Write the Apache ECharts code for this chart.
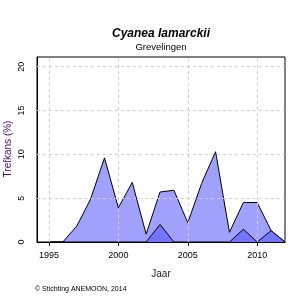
<!DOCTYPE html>
<html>
<head>
<meta charset="utf-8">
<script src="https://cdn.jsdelivr.net/npm/echarts@6/dist/echarts.min.js"></script>
<style>
  html, body { margin: 0; padding: 0; background: #fff; }
  #chart { width: 300px; height: 300px; }
</style>
</head>
<body>
<div id="chart"></div>
<script>
var years = [1995, 1996, 1997, 1998, 1999, 2000, 2001, 2002, 2003, 2004, 2005, 2006, 2007, 2008, 2009, 2010, 2011, 2012];
var totaal = [0, 0, 1.8, 4.9, 9.6, 3.9, 6.8, 0.9, 5.7, 5.9, 2.2, 6.7, 10.3, 1.1, 4.5, 4.5, 1.3, 0];
var deel = [0, 0, 0, 0, 0, 0, 0, 0, 2.0, 0, 0, 0, 0, 0, 1.45, 0, 1.3, 0];
var xTicks = [1995, 2000, 2005, 2010];
var yTicks = [0, 5, 10, 15, 20];

function pairs(vals) {
    return years.map(function (y, i) { return [y, vals[i]]; });
}

var font = 'Liberation Sans, Arial, sans-serif';

// grid lines as markLines so they sit on the custom tick values
var gridLines = xTicks.map(function (v) { return { xAxis: v }; })
    .concat(yTicks.slice(1).map(function (v) { return { yAxis: v }; }));

var option = {
    animation: false,
    grid: {
        left: 37, right: 15, top: 57, bottom: 58,
        outerBoundsMode: 'none',
        containLabel: false,
        show: true, borderColor: '#000', borderWidth: 1, backgroundColor: 'transparent'
    },
    xAxis: {
        type: 'value',
        min: 1994.14,
        max: 2012,
        name: 'Jaar',
        nameLocation: 'middle',
        nameGap: 27,
        nameTextStyle: { fontFamily: font, fontSize: 10, color: '#222' },
        axisLine: { show: true, lineStyle: { color: '#000' } },
        axisTick: { show: true, length: 4, customValues: xTicks, lineStyle: { color: '#000' } },
        axisLabel: {
            customValues: xTicks, fontFamily: font, fontSize: 9, color: '#000', margin: 9,
            formatter: function (v) { return String(v); }
        },
        splitLine: { show: false }
    },
    yAxis: {
        type: 'value',
        min: 0,
        max: 21.1,
        axisLine: { show: true, lineStyle: { color: '#000' } },
        axisTick: { show: false, customValues: yTicks },
        axisLabel: {
            customValues: yTicks, rotate: 90, fontFamily: font, fontSize: 9, color: '#000', margin: 11,
            align: 'center', verticalAlign: 'bottom',
            formatter: function (v) { return String(v); }
        },
        splitLine: { show: false }
    },
    series: [
        {
            type: 'line',
            data: [],
            silent: true,
            z: 1,
            markLine: {
                silent: true,
                symbol: 'none',
                label: { show: false },
                lineStyle: { color: '#d0d0d0', type: [3, 3], width: 1 },
                data: gridLines
            }
        },
        {
            type: 'line',
            data: pairs(totaal),
            symbol: 'none',
            lineStyle: { color: '#000', width: 1 },
            areaStyle: { color: '#a0a0ff', opacity: 1 },
            z: 2
        },
        {
            type: 'line',
            data: pairs(deel),
            symbol: 'none',
            lineStyle: { color: '#000', width: 1 },
            areaStyle: { color: '#7474ff', opacity: 1 },
            z: 3
        }
    ],
    graphic: [
        {
            type: 'text', z: 10,
            style: { text: 'Cyanea lamarckii', x: 161, y: 34, textAlign: 'center', textVerticalAlign: 'middle',
                font: 'italic bold 12px ' + font, fill: '#000' }
        },
        {
            type: 'text', z: 10,
            style: { text: 'Grevelingen', x: 161, y: 47, textAlign: 'center', textVerticalAlign: 'middle',
                font: '9.5px ' + font, fill: '#000' }
        },
        {
            // y axis title, placed by hand so it is not clipped
            type: 'text', z: 10,
            x: 8, y: 149, rotation: Math.PI / 2,
            style: { text: 'Trefkans (%)', textAlign: 'center', textVerticalAlign: 'middle',
                font: '10px ' + font, fill: '#3c1064' }
        },
        {
            type: 'text', z: 10,
            style: { text: '\u00a9 Stichting ANEMOON, 2014', x: 35, y: 289, textAlign: 'left', textVerticalAlign: 'middle',
                font: '7px ' + font, fill: '#000' }
        }
    ]
};

var myChart = echarts.init(document.getElementById('chart'));
myChart.setOption(option, true);
</script>
</body>
</html>
